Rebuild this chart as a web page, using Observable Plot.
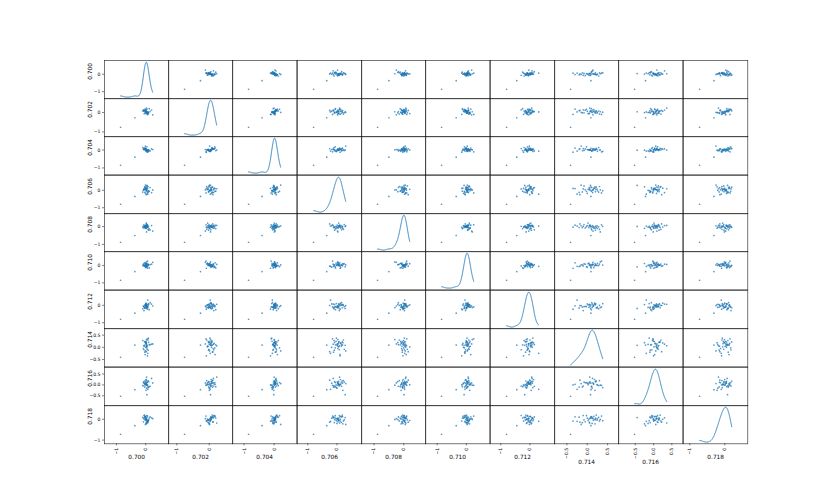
<!DOCTYPE html>
<html>
<head>
<meta charset="utf-8">
<script src="https://cdn.jsdelivr.net/npm/d3@7"></script>
<script src="https://cdn.jsdelivr.net/npm/@observablehq/plot@0.6"></script>
<style>
  body { margin: 0; background: #fff; }
  #fig { position: relative; width: 830px; height: 498px; overflow: hidden; background: #fff; }
  #fig > svg { position: absolute; overflow: visible; }
</style>
</head>
<body>
<div id="fig"></div>
<script>
// Variable names (column labels)
const names = ["0.700", "0.702", "0.704", "0.706", "0.708", "0.710", "0.712", "0.714", "0.716", "0.718"];

const s700 = [-0.86, -0.37, 0.02, -0.03, 0.05, 0.01, -0.06, 0.08, 0.00, 0.03, -0.02, 0.10, 0.04, -0.08, 0.06, 0.01, -0.01, 0.12, 0.02, -0.04, 0.07, 0.24, 0.03, -0.10, 0.05, 0.00, 0.09, -0.05, 0.02, 0.15, -0.02, 0.04, 0.01, -0.07, 0.06, 0.20, 0.03, -0.03, 0.08, 0.00];
const s702 = [-0.76, -0.27, 0.05, 0.10, -0.04, 0.02, 0.14, -0.08, 0.07, 0.00, 0.18, -0.02, 0.04, 0.12, -0.10, 0.06, 0.01, 0.20, -0.05, 0.09, 0.03, -0.12, 0.23, 0.08, -0.01, 0.15, 0.02, -0.06, 0.11, 0.05, -0.03, 0.17, 0.00, 0.07, -0.09, 0.13, 0.04, 0.10, -0.02, 0.06];
const s704 = [-0.85, -0.40, -0.02, 0.04, 0.01, -0.07, 0.08, 0.00, 0.03, -0.04, 0.11, 0.02, -0.01, 0.06, -0.10, 0.05, 0.22, -0.03, 0.01, 0.09, -0.06, 0.03, 0.00, 0.14, -0.02, 0.05, -0.08, 0.02, 0.07, -0.05, 0.04, 0.18, -0.01, 0.03, -0.12, 0.06, 0.01, 0.10, -0.04, 0.02];
const s706 = [-0.80, -0.35, 0.05, -0.12, 0.15, -0.03, 0.08, 0.22, -0.18, 0.00, 0.10, -0.08, 0.28, 0.03, -0.15, 0.12, 0.30, -0.05, 0.06, 0.18, -0.22, 0.02, 0.09, -0.10, 0.25, 0.13, -0.02, 0.04, -0.25, 0.16, 0.07, -0.06, 0.20, 0.01, 0.11, -0.13, 0.03, 0.19, -0.09, 0.06];
const s708 = [-0.88, -0.50, 0.00, -0.05, 0.04, -0.10, 0.02, -0.15, 0.06, -0.03, 0.08, -0.20, 0.01, -0.07, 0.10, -0.02, 0.05, -0.12, 0.20, -0.04, 0.03, -0.25, 0.07, -0.01, 0.12, -0.08, 0.02, -0.06, 0.15, -0.18, 0.04, 0.00, -0.09, 0.09, -0.03, 0.06, -0.30, 0.01, -0.05, 0.03];
const s710 = [-0.85, -0.35, 0.05, -0.06, 0.02, 0.12, -0.03, 0.08, -0.10, 0.00, 0.15, 0.04, -0.08, 0.07, 0.25, -0.02, 0.03, -0.14, 0.10, 0.01, -0.05, 0.18, 0.06, -0.01, 0.09, -0.12, 0.02, 0.13, -0.04, 0.05, 0.00, -0.07, 0.11, 0.03, -0.16, 0.07, 0.20, -0.02, 0.04, 0.01];
const s712 = [-0.80, -0.45, -0.05, -0.15, 0.02, -0.10, -0.30, 0.00, 0.08, -0.12, -0.03, 0.05, -0.18, -0.06, -0.09, 0.12, -0.02, -0.25, 0.03, -0.14, 0.30, -0.04, 0.06, -0.20, -0.07, 0.01, 0.10, -0.11, -0.01, 0.15, -0.16, -0.08, 0.04, -0.05, -0.22, 0.07, -0.13, 0.02, -0.10, 0.09];
const s714 = [-0.41, 0.09, 0.15, -0.20, 0.05, 0.25, -0.10, 0.30, 0.00, 0.12, -0.30, 0.20, 0.08, -0.05, 0.35, 0.18, -0.15, 0.10, 0.02, 0.22, -0.25, 0.14, 0.06, 0.28, -0.08, 0.16, 0.38, 0.04, -0.18, 0.11, 0.24, -0.02, 0.19, 0.07, -0.35, 0.13, 0.32, 0.09, -0.12, 0.21];
const s716 = [-0.52, -0.22, 0.05, -0.10, 0.12, 0.00, -0.05, 0.20, 0.08, -0.15, 0.03, 0.15, -0.45, 0.10, -0.02, 0.25, 0.06, -0.08, 0.01, 0.18, -0.20, 0.09, 0.36, -0.03, 0.13, 0.04, -0.12, 0.07, 0.22, -0.06, 0.02, 0.11, -0.25, 0.14, 0.00, 0.30, -0.01, 0.08, -0.09, 0.16];
const s718 = [-0.72, -0.31, -0.05, 0.10, -0.15, 0.02, 0.18, -0.08, 0.05, -0.20, 0.12, -0.02, 0.08, -0.12, 0.15, 0.00, -0.25, 0.06, -0.06, 0.20, -0.10, 0.03, -0.18, 0.09, -0.03, 0.14, -0.07, 0.01, -0.14, 0.11, -0.04, 0.17, -0.22, 0.04, -0.09, 0.07, -0.01, 0.13, -0.16, 0.05];

// Tick values and labels
const ticksWide = [-1, 0];
const ticksWideLabels = ["\u22121", "0"];
const ticksNarrow = [-0.5, 0, 0.5];
const ticksNarrowLabels = ["\u22120.5", "0.0", "0.5"];

const series = [s700, s702, s704, s706, s708, s710, s712, s714, s716, s718];
const tickSets = names.map((n, k) => (k === 7 || k === 8) ? [ticksNarrow, ticksNarrowLabels] : [ticksWide, ticksWideLabels]);

// Observation table built from the arrays
const obs = d3.range(s700.length).map(r => series.map(s => s[r]));

const color = "#1f77b4";
const FONT = "DejaVu Sans";
const L = 103.75, R = 747, T = 59.76, B = 443.2;
const N = names.length;
const W = (R - L) / N, H = (B - T) / N;

// pandas-style range padding (data occupies the middle half)
const pad = 1.0;
const bounds = series.map(s => {
  const [lo, hi] = d3.extent(s);
  const e = (hi - lo) * pad / 2;
  return [lo - e, hi + e];
});

function kde(vals) {
  const n = vals.length;
  const bw = d3.deviation(vals) * Math.pow(n, -0.2);
  const [lo, hi] = d3.extent(vals);
  return d3.range(301).map(k => {
    const x = lo + (hi - lo) * k / 300;
    let s = 0;
    for (const v of vals) { const z = (x - v) / bw; s += Math.exp(-0.5 * z * z); }
    return {x, y: s / (n * bw * Math.sqrt(2 * Math.PI))};
  });
}

const fig = document.getElementById("fig");
function place(svg, left, top) {
  svg.style.left = left + "px";
  svg.style.top = top + "px";
  fig.appendChild(svg);
}
const baseStyle = {background: "none", overflow: "visible", fontFamily: FONT};

// Cells
for (let i = 0; i < N; i++) {
  for (let j = 0; j < N; j++) {
    let marks, yDomain;
    if (i === j) {
      const k = kde(series[i]);
      const [dmin, dmax] = d3.extent(k, d => d.y);
      const m = (dmax - dmin) * 0.05;
      yDomain = [dmin - m, dmax + m];
      marks = [
        Plot.line(k, {x: "x", y: "y", stroke: color, strokeWidth: 0.9}),
        Plot.frame({stroke: "#1a1a1a", strokeWidth: 0.6})
      ];
    } else {
      yDomain = bounds[i];
      marks = [
        Plot.dot(obs, {x: d => d[j], y: d => d[i], r: 0.85, fill: color, fillOpacity: 0.75, stroke: null}),
        Plot.frame({stroke: "#1a1a1a", strokeWidth: 0.6})
      ];
    }
    const svg = Plot.plot({
      width: W, height: H, margin: 0,
      style: baseStyle,
      x: {domain: bounds[j], axis: null},
      y: {domain: yDomain, axis: null},
      marks
    });
    place(svg, L + j * W, T + i * H);
  }
}

// Left axes
for (let i = 0; i < N; i++) {
  const [tv, tl] = tickSets[i];
  const svg = Plot.plot({
    width: W, height: H, margin: 0,
    style: baseStyle,
    y: {domain: bounds[i]},
    marks: [
      Plot.axisY({anchor: "left", ticks: tv, tickFormat: d => tl[tv.indexOf(d)], tickSize: 2, tickPadding: 2, fontSize: 4.6, label: null, stroke: "#000", strokeWidth: 0.5}),
      Plot.text([names[i]], {text: d => d, frameAnchor: "left", dx: -14, rotate: -90, fontSize: 5.8, fill: "#000"})
    ]
  });
  place(svg, L, T + i * H);
}

// Bottom axes
for (let j = 0; j < N; j++) {
  const [tv, tl] = tickSets[j];
  const narrow = (j === 7 || j === 8);
  const svg = Plot.plot({
    width: W, height: H, margin: 0,
    style: baseStyle,
    x: {domain: bounds[j]},
    marks: [
      Plot.axisX({anchor: "bottom", ticks: tv, tickFormat: d => tl[tv.indexOf(d)], tickSize: 2, tickPadding: 2, tickRotate: -90, fontSize: 4.6, label: null, stroke: "#000", strokeWidth: 0.5}),
      Plot.text([names[j]], {text: d => d, frameAnchor: "bottom", dy: narrow ? 19.8 : 15.6, fontSize: 5.8, fill: "#000"})
    ]
  });
  place(svg, L + j * W, T + (N - 1) * H);
}
</script>
</body>
</html>
